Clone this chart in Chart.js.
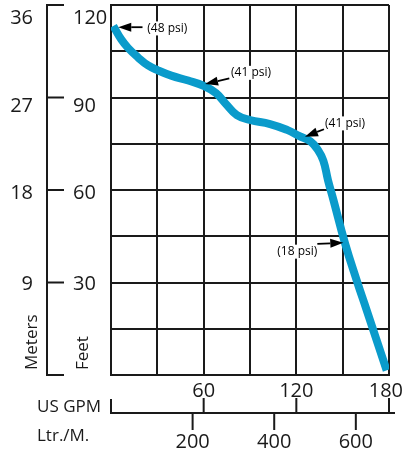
<!DOCTYPE html>
<html>
<head>
<meta charset="utf-8">
<script src="https://cdn.jsdelivr.net/npm/chart.js@4"></script>
<style>
    html, body { margin: 0; padding: 0; background: #fff; }
    #wrap { width: 404px; height: 454px; }
</style>
</head>
<body>
<div id="wrap"><canvas id="pumpChart" width="404" height="454"></canvas></div>
<script>
// Pump curve: flow in US GPM, head in feet
var flowGpm  = [1.5, 6.7, 11, 17.5, 24, 30.4, 39, 50, 60, 68, 75, 81.5, 90, 103, 114, 122, 129, 134, 137.5, 140.5, 144, 151.5, 159, 165.5, 178.5];
var headFeet = [113.2, 108.8, 106.1, 103, 100.4, 98.8, 97.1, 95.5, 93.8, 91.4, 87.6, 84.3, 82.7, 81.4, 79.5, 77.5, 75.8, 73, 69.5, 63.2, 56.8, 42.8, 30.8, 21.1, 1.5];

// Axis tick labels
var feetTicks  = [0, 30, 60, 90, 120];
var meterTicks = ['', 9, 18, 27, 36];
var gpmTicks   = [60, 120, 180];
var lpmTicks   = [200, 400, 600];
var LPM_PER_GPM = 3.785;

// Pressure callouts: label and the point on the curve the arrow hits
var psiLabels = ['(48 psi)', '(41 psi)', '(41 psi)', '(18 psi)'];
var psiPoints = [[4.7, 112.8], [60.9, 94.4], [125.6, 77.3], [150.4, 42.9]];

// where each arrow starts and where its text sits (data units)
var callouts = [
    { tail: [20.4, 112.8], text: [23.5, 112.4], align: 'left' },
    { tail: [76.6, 96.2],  text: [77.7, 98.0],  align: 'left' },
    { tail: [137.9, 79.7], text: [138.6, 81.6], align: 'left' },
    { tail: [133.6, 42.5], text: [133.6, 40.0], align: 'right' }
];

var INK = '#1a1a1a';
var FONT = '"Open Sans", "Noto Sans", sans-serif';

function drawArrow(ctx, x0, y0, x1, y1) {
    var ang = Math.atan2(y1 - y0, x1 - x0);
    var head = 13, half = 4.5;
    var bx = x1 - head * Math.cos(ang), by = y1 - head * Math.sin(ang);
    ctx.beginPath();
    ctx.moveTo(x0, y0);
    ctx.lineTo(bx, by);
    ctx.lineWidth = 1.8;
    ctx.stroke();
    ctx.beginPath();
    ctx.moveTo(x1, y1);
    ctx.lineTo(bx - half * Math.sin(ang), by + half * Math.cos(ang));
    ctx.lineTo(bx + half * Math.sin(ang), by - half * Math.cos(ang));
    ctx.closePath();
    ctx.fill();
}

var axesPlugin = {
    id: 'bracketAxes',
    afterDraw: function(chart) {
        var ctx = chart.ctx;
        var xs = chart.scales.x, ys = chart.scales.y;
        var area = chart.chartArea;
        ctx.save();
        ctx.strokeStyle = INK;
        ctx.fillStyle = INK;
        ctx.lineWidth = 2;

        // left bracket axis (feet / meters)
        var bx = 47;
        ctx.beginPath();
        ctx.moveTo(bx, ys.getPixelForValue(120));
        ctx.lineTo(bx, ys.getPixelForValue(0));
        feetTicks.forEach(function(f) {
            var py = ys.getPixelForValue(f);
            ctx.moveTo(bx - 1, py);
            ctx.lineTo(64, py);
        });
        ctx.stroke();

        // tick labels sit a bit lower toward the top of the scale
        var drop = { 30: 7.5, 60: 8.5, 90: 14, 120: 18.5 };
        ctx.font = '20px ' + FONT;
        ctx.textBaseline = 'alphabetic';
        feetTicks.forEach(function(f, i) {
            if (!f) return;
            var py = ys.getPixelForValue(f) + drop[f];
            ctx.textAlign = 'left';
            ctx.fillText(String(f), 73, py);
            ctx.textAlign = 'right';
            ctx.fillText(String(meterTicks[i]), 33, py);
        });

        // rotated axis titles
        ctx.font = '17px ' + FONT;
        ctx.textAlign = 'left';
        [['Meters', 36.5], ['Feet', 88]].forEach(function(t) {
            ctx.save();
            ctx.translate(t[1], 370);
            ctx.rotate(-Math.PI / 2);
            ctx.fillText(t[0], 0, 0);
            ctx.restore();
        });

        // bottom axis: GPM above the line, Ltr./M. below
        var ay = 413;
        ctx.beginPath();
        ctx.moveTo(area.left, ay);
        ctx.lineTo(395, ay);
        ctx.moveTo(area.left, ay + 1);
        ctx.lineTo(area.left, 399);
        gpmTicks.forEach(function(g) {
            var px = xs.getPixelForValue(g);
            ctx.moveTo(px, ay);
            ctx.lineTo(px, 398);
        });
        lpmTicks.forEach(function(l) {
            var px = xs.getPixelForValue(l / LPM_PER_GPM);
            ctx.moveTo(px, ay);
            ctx.lineTo(px, 430);
        });
        ctx.stroke();

        ctx.font = '20px ' + FONT;
        ctx.textAlign = 'center';
        gpmTicks.forEach(function(g) {
            var txt = String(g);
            var w = ctx.measureText(txt).width;
            var px = Math.min(xs.getPixelForValue(g), 403 - w / 2);
            ctx.fillText(txt, px, 397);
        });
        lpmTicks.forEach(function(l) {
            ctx.fillText(String(l), xs.getPixelForValue(l / LPM_PER_GPM), 448);
        });

        ctx.font = '17px ' + FONT;
        ctx.textAlign = 'left';
        ctx.fillText('US GPM', 37, 412);
        ctx.fillText('Ltr./M.', 37, 441);
        ctx.restore();
    },
    afterDatasetsDraw: function(chart) {
        var ctx = chart.ctx;
        var xs = chart.scales.x, ys = chart.scales.y;
        ctx.save();
        ctx.strokeStyle = '#000';
        ctx.fillStyle = '#000';
        ctx.font = '12px ' + FONT;
        ctx.textBaseline = 'middle';
        psiLabels.forEach(function(label, i) {
            var c = callouts[i];
            var tx = xs.getPixelForValue(c.text[0]), ty = ys.getPixelForValue(c.text[1]);
            var w = ctx.measureText(label).width;
            var left = c.align === 'left' ? tx : tx - w;
            // white patch so grid lines stop behind the text
            ctx.fillStyle = '#fff';
            ctx.fillRect(left - 1, ty - 7, w + 2, 14);
            ctx.fillStyle = '#000';
            ctx.textAlign = c.align;
            ctx.fillText(label, tx, ty);
            drawArrow(ctx,
                xs.getPixelForValue(c.tail[0]), ys.getPixelForValue(c.tail[1]),
                xs.getPixelForValue(psiPoints[i][0]), ys.getPixelForValue(psiPoints[i][1]));
        });
        ctx.restore();
    }
};

var gridOpts = { color: INK, lineWidth: 2, drawTicks: false };
var borderOpts = { color: INK, width: 2 };

var pumpChart = new Chart(document.getElementById('pumpChart').getContext('2d'), {
    type: 'line',
    data: {
        datasets: [{
            data: flowGpm.map(function(g, i) { return { x: g, y: headFeet[i] }; }),
            borderColor: '#0a9bcb',
            borderWidth: 8,
            borderCapStyle: 'butt',
            borderJoinStyle: 'round',
            pointRadius: 0,
            tension: 0.45,
            fill: false
        }]
    },
    options: {
        responsive: false,
        animation: false,
        devicePixelRatio: 1,
        layout: { padding: { left: 111, right: 15, top: 5, bottom: 79 } },
        plugins: { legend: { display: false }, tooltip: { enabled: false } },
        scales: {
            x: { type: 'linear', min: 0, max: 180, ticks: { display: false, stepSize: 30 }, grid: gridOpts, border: borderOpts },
            y: { type: 'linear', min: 0, max: 120, ticks: { display: false, stepSize: 15 }, grid: gridOpts, border: borderOpts }
        }
    },
    plugins: [axesPlugin]
});
</script>
</body>
</html>
